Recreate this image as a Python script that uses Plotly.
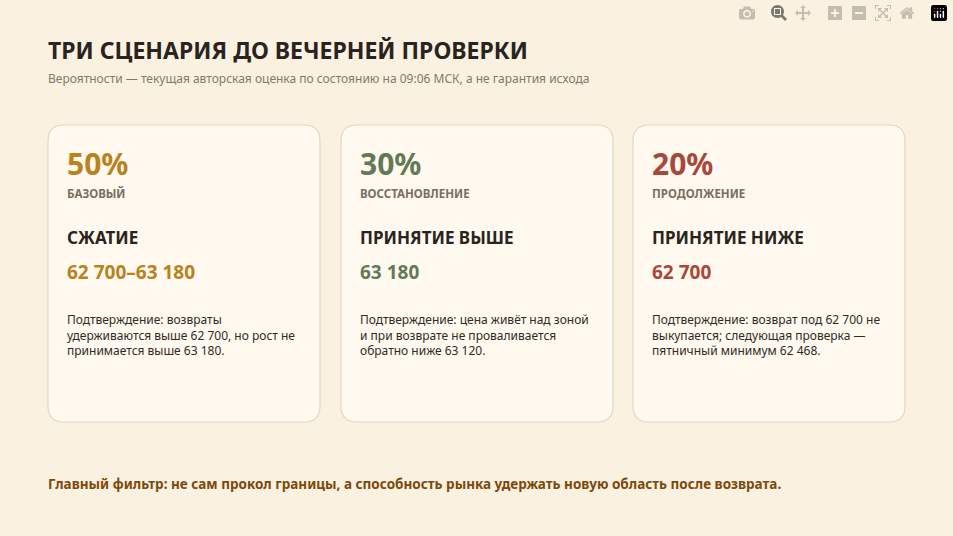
import plotly.graph_objects as go

W, H = 953, 536
probabilities = ["50%", "30%", "20%"]
kinds = ["БАЗОВЫЙ", "ВОССТАНОВЛЕНИЕ", "ПРОДОЛЖЕНИЕ"]
names = ["СЖАТИЕ", "ПРИНЯТИЕ ВЫШЕ", "ПРИНЯТИЕ НИЖЕ"]
levels = ["62 700–63 180", "63 180", "62 700"]
descriptions = [
    "Подтверждение: возвраты<br>удерживаются выше 62 700, но рост не<br>принимается выше 63 180.",
    "Подтверждение: цена живёт над зоной<br>и при возврате не проваливается<br>обратно ниже 63 120.",
    "Подтверждение: возврат под 62 700 не<br>выкупается; следующая проверка —<br>пятничный минимум 62 468.",
]
accents = ["#B9821C", "#627A57", "#A8473B"]
title = "ТРИ СЦЕНАРИЯ ДО ВЕЧЕРНЕЙ ПРОВЕРКИ"
subtitle = "Вероятности — текущая авторская оценка по состоянию на 09:06 МСК, а не гарантия исхода"
footer = "Главный фильтр: не сам прокол границы, а способность рынка удержать новую область после возврата."

FONT = "Noto Sans"
fig = go.Figure()
fig.update_layout(width=W, height=H, margin=dict(l=0, r=0, t=0, b=0),
                  paper_bgcolor="#FBF1E1", plot_bgcolor="#FBF1E1",
                  xaxis=dict(visible=False, range=[0, W]),
                  yaxis=dict(visible=False, range=[H, 0]),
                  showlegend=False)

def rrect(x0, y0, x1, y1, r):
    return (f"M{x0+r},{y0} L{x1-r},{y0} Q{x1},{y0} {x1},{y0+r} L{x1},{y1-r} "
            f"Q{x1},{y1} {x1-r},{y1} L{x0+r},{y1} Q{x0},{y1} {x0},{y1-r} "
            f"L{x0},{y0+r} Q{x0},{y0} {x0+r},{y0} Z")

def txt(x, y, s, size, color, bold=False):
    fig.add_annotation(x=x, y=y, xref="x", yref="y", text=f"<b>{s}</b>" if bold else s,
                       showarrow=False, xanchor="left", yanchor="middle", align="left",
                       font=dict(family=FONT, size=size, color=color))

txt(46, 50, title, 23, "#2A2420", True)
txt(46, 78, subtitle, 12, "#857868")
card_x = [48, 341, 633]
for i, x in enumerate(card_x):
    fig.add_shape(type="path", path=rrect(x, 125, x + 272, 422, 16), xref="x", yref="y",
                  fillcolor="#FFF9EF", line=dict(color="#E6D5BF", width=1.2), layer="below")
    tx = x + 17
    txt(tx, 163, probabilities[i], 30, accents[i], True)
    txt(tx, 193, kinds[i], 11.5, "#7A6E62", True)
    txt(tx, 237, names[i], 17, "#2A2420", True)
    txt(tx, 272, levels[i], 19, accents[i], True)
    fig.add_annotation(x=tx, y=309, xref="x", yref="y", text=descriptions[i], showarrow=False,
                       xanchor="left", yanchor="top", align="left",
                       font=dict(family=FONT, size=12, color="#2F2A25"))
txt(46, 484, footer, 13.5, "#7C4A0C", True)
fig.write_html("out.html", post_script="document.body.style.margin='0';document.body.style.background='#FBF1E1';")
